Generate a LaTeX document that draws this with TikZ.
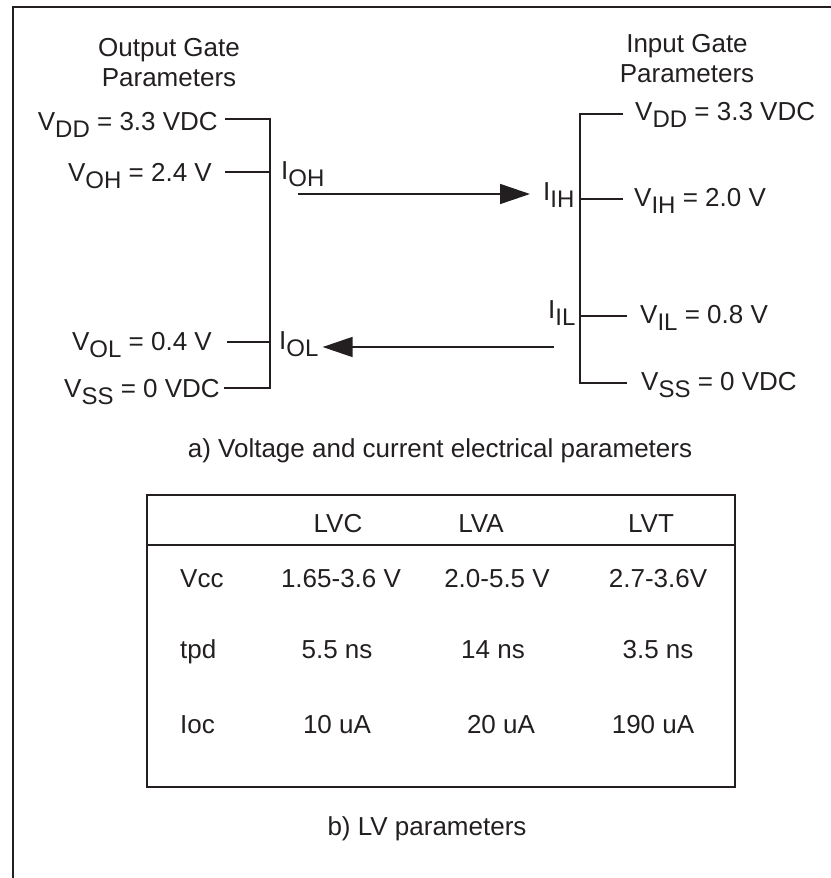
\documentclass[tikz,border=0pt]{standalone}
\usepackage{fontspec}
\setmainfont{Liberation Sans}
\usepackage{tikz}
\usetikzlibrary{arrows.meta, positioning, calc}
\usepackage{xcolor}
\definecolor{inkgray}{HTML}{231F20}
\newcommand{\lowsub}[1]{\raisebox{-7pt}{\fontsize{24}{24}\selectfont #1}}
\tikzset{
  txt/.style={inner sep=0pt, text=inkgray, font=\fontsize{26}{30}\selectfont},
  wire/.style={draw=inkgray, line width=1.6pt},
  flow/.style={wire, -{Triangle[length=30pt,width=20pt]}},
  frame/.style={draw=inkgray, line width=2pt}
}

\begin{document}
\begin{tikzpicture}[x=1pt,y=-1pt]
\useasboundingbox (0,0) rectangle (830,878);
\draw[frame] (13,880) -- (13,7) -- (832,7);

% output gate side
\node[txt, align=center, anchor=north] (outhead) at (169,38) {Output Gate\\Parameters};
\node[txt, anchor=base east] (ovdd) at (218,130) {V\lowsub{DD} = 3.3 VDC};
\node[txt, anchor=base east] (ovoh) at (212,181) {V\lowsub{OH} = 2.4 V};
\node[txt, anchor=base east] (ovol) at (212,350) {V\lowsub{OL} = 0.4 V};
\node[txt, anchor=base east] (ovss) at (220,397) {V\lowsub{SS} = 0 VDC};
\node[txt, anchor=base west] (ioh) at (281,179) {I\lowsub{OH}};
\node[txt, anchor=base west] (iol) at (279,349) {I\lowsub{OL}};
\coordinate (obus1) at (270,119);
\coordinate (obus2) at (270,172);
\coordinate (obus3) at (270,342);
\coordinate (obus4) at (270,388);
\draw[wire] ([xshift=7pt]ovdd.base east |- obus1) -- (obus1) -- (obus4) -- ([xshift=4pt]ovss.base east |- obus4);
\draw[wire] ([xshift=13pt]ovoh.base east |- obus2) -- (obus2);
\draw[wire] ([xshift=15pt]ovol.base east |- obus3) -- (obus3);

% input gate side
\node[txt, align=center, anchor=north] (inhead) at (687,34) {Input Gate\\Parameters};
\node[txt, anchor=base west] (ivdd) at (635,120) {V\lowsub{DD} = 3.3 VDC};
\node[txt, anchor=base west] (ivih) at (634,206) {V\lowsub{IH} = 2.0 V};
\node[txt, anchor=base west] (ivil) at (640,323) {V\lowsub{IL} = 0.8 V};
\node[txt, anchor=base west] (ivss) at (641,390) {V\lowsub{SS} = 0 VDC};
\node[txt, anchor=base west] (iih) at (543,200) {I\lowsub{IH}};
\node[txt, anchor=base west] (iil) at (548,318) {I\lowsub{IL}};
\coordinate (ibus1) at (580,114);
\coordinate (ibus2) at (580,199);
\coordinate (ibus3) at (580,316);
\coordinate (ibus4) at (580,383);
\draw[wire] ([xshift=-12pt]ivdd.base west |- ibus1) -- (ibus1) -- (ibus4) -- ([xshift=-14pt]ivss.base west |- ibus4);
\draw[wire] ([xshift=-11pt]ivih.base west |- ibus2) -- (ibus2);
\draw[wire] ([xshift=-13pt]ivil.base west |- ibus3) -- (ibus3);

% currents
\coordinate (ohstart) at (298,194);
\coordinate (olstart) at (554,347);
\draw[flow] (ohstart) -- ([xshift=-13pt]iih.west |- ohstart);
\draw[flow] (olstart) -- ([xshift=4pt]iol.east |- olstart);

\node[txt, anchor=base] (capa) at (440,457) {a) Voltage and current electrical parameters};

% LV table
\draw[frame] (147,495) rectangle (735,787);
\draw[frame] (147,545) -- (735,545);
\node[txt, anchor=base] (hlvc) at (338,532) {LVC};
\node[txt, anchor=base] (hlva) at (481,532) {LVA};
\node[txt, anchor=base] (hlvt) at (651,532) {LVT};
\node[txt, anchor=base west] (rvcc) at (180,587) {Vcc};
\node[txt, anchor=base] (vcclvc) at (341,587) {1.65-3.6 V};
\node[txt, anchor=base] (vcclva) at (497,587) {2.0-5.5 V};
\node[txt, anchor=base] (vcclvt) at (658,587) {2.7-3.6V};
\node[txt, anchor=base west] (rtpd) at (180,658) {tpd};
\node[txt, anchor=base] (tpdlvc) at (337,658) {5.5 ns};
\node[txt, anchor=base] (tpdlva) at (493,658) {14 ns};
\node[txt, anchor=base] (tpdlvt) at (658,658) {3.5 ns};
\node[txt, anchor=base west] (rioc) at (180,733) {Ioc};
\node[txt, anchor=base] (ioclvc) at (337,733) {10 uA};
\node[txt, anchor=base] (ioclva) at (501,733) {20 uA};
\node[txt, anchor=base] (ioclvt) at (653,733) {190 uA};

\node[txt, anchor=base] (capb) at (427,835) {b) LV parameters};
\end{tikzpicture}
\end{document}
